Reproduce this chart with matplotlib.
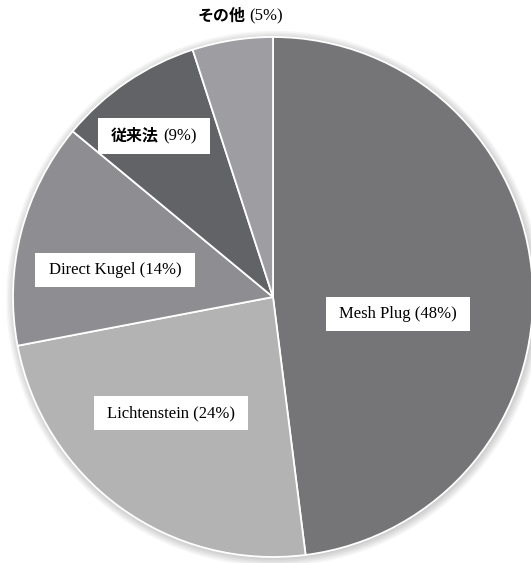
import matplotlib.pyplot as plt
from matplotlib.offsetbox import TextArea, HPacker, DrawingArea, AnnotationBbox
from matplotlib.patches import Circle

# share of each method, clockwise from 12 o'clock
methods = ['Mesh Plug', 'Lichtenstein', 'Direct Kugel', '従来法', 'その他']
shares = [48, 24, 14, 9, 5]
colors = ['#757577', '#b3b3b3', '#8e8e92', '#626366', '#9e9ea2']

# label centres in pixels (x from left, y from top)
label_px = [(398, 314), (171, 413), (115, 270), (154, 136), (240, 16)]
boxed = [True, True, True, True, False]

W, H = 531, 563
cx, cy, R = 273, 297, 260

fig = plt.figure(figsize=(W / 100, H / 100), dpi=100)
ax = fig.add_axes([0, 0, 1, 1])

# soft shadow around the rim
for k in range(6):
    ax.add_patch(Circle((0.004, -0.006), 1 + 0.006 * k, color='black',
                        alpha=0.035, lw=0, zorder=0))

ax.pie(shares, colors=colors, startangle=90, counterclock=False, radius=1,
       center=(0, 0), frame=True,
       wedgeprops=dict(edgecolor='white', linewidth=1.3, zorder=1))
ax.set_xlim(-cx / R, (W - cx) / R)
ax.set_ylim(-(H - cy) / R, cy / R)
ax.axis('off')

serif = dict(family='Liberation Serif', size=12, color='black')
jp = dict(family='Noto Sans CJK JP', weight='bold', size=11.5, color='black')

for name, pct, (px, py), box in zip(methods, shares, label_px, boxed):
    if name.isascii():
        parts = [TextArea(f'{name} ({pct}%)', textprops=serif)]
    else:
        parts = [TextArea(name, textprops=jp), TextArea(f'({pct}%)', textprops=serif)]
    if box:
        # zero-width spacers widen the box sideways through the packer gap
        parts = [DrawingArea(0, 1)] + parts + [DrawingArea(0, 1)]
    content = HPacker(children=parts, pad=0, sep=3, align='baseline')
    ab = AnnotationBbox(content, ((px - cx) / R, (cy - py) / R),
                        frameon=box, zorder=5,
                        bboxprops=dict(boxstyle='square,pad=0.65',
                                       facecolor='white', edgecolor='none'))
    ax.add_artist(ab)

fig.savefig('out.png', dpi=100)
